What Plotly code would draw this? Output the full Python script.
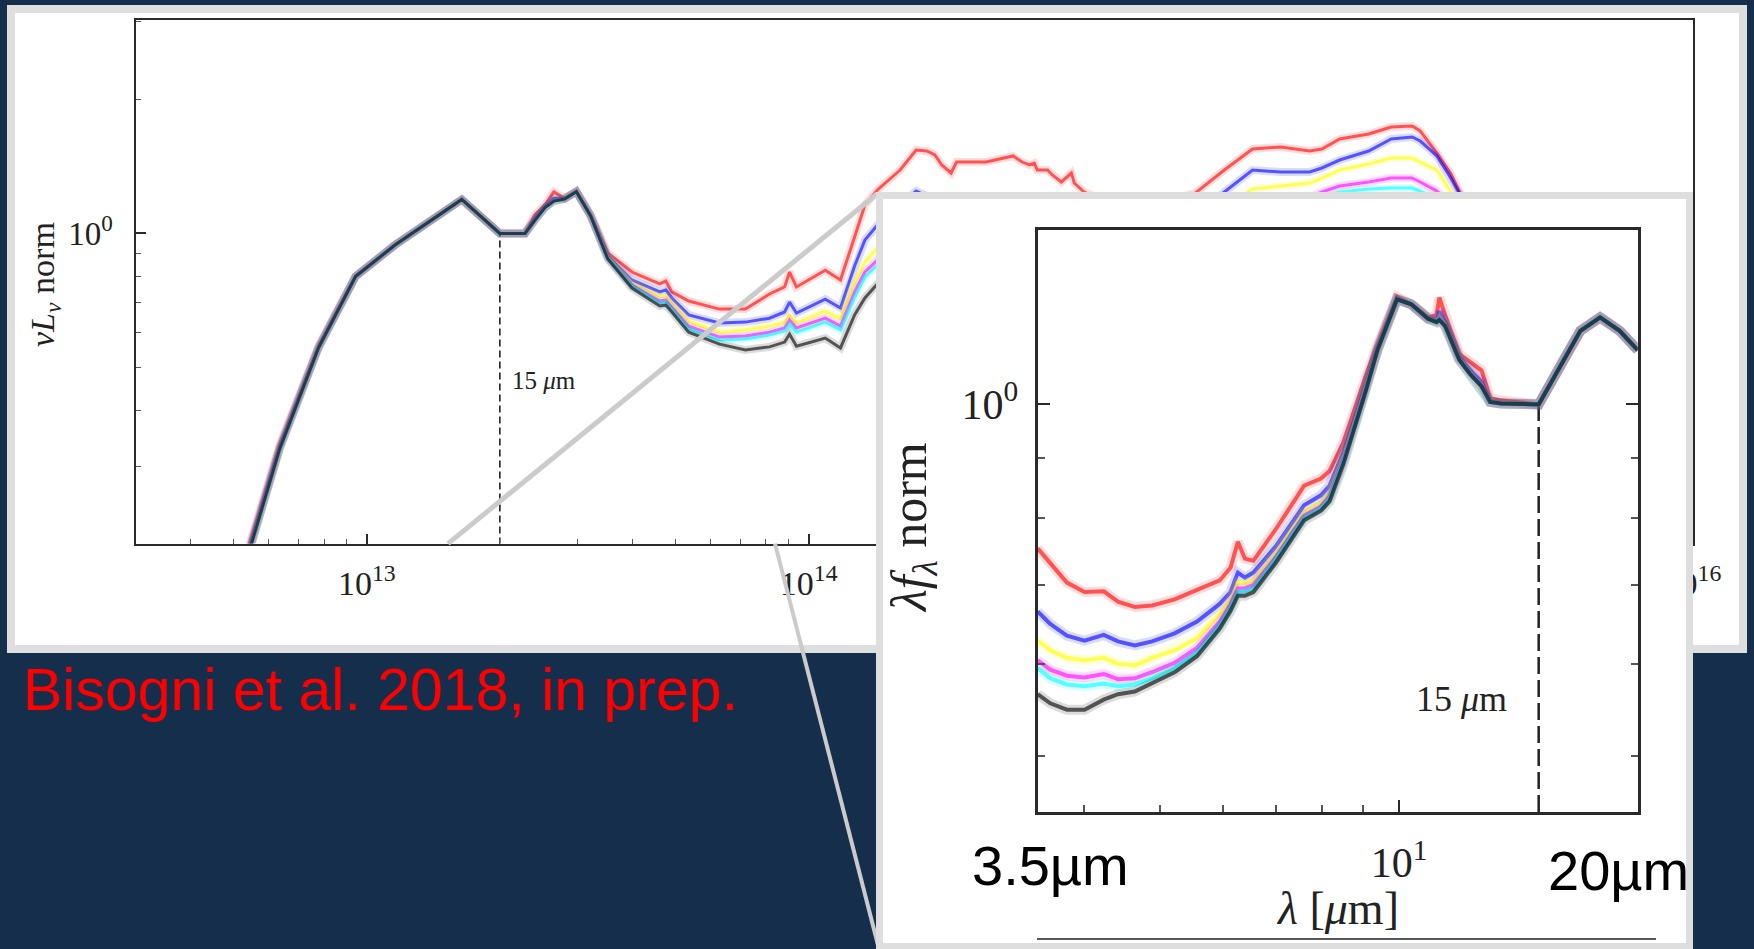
import plotly.graph_objects as go

W, H = 1754, 949

# ---------------- main panel data (nu in Hz, nuL_nu normalised) ----------------
nu_main = [5.16e12, 6.35e12, 7.78e12, 9.43e12, 1.16e13, 1.64e13, 2.00e13, 2.28e13, 2.40e13, 2.53e13,
           2.65e13, 2.80e13, 2.98e13, 3.21e13,
           3.51e13, 3.98e13, 4.60e13, 4.75e13, 4.90e13, 5.35e13, 6.28e13, 7.19e13, 8.15e13, 8.82e13,
           9.05e13, 9.38e13, 1.09e14, 1.18e14, 1.27e14, 1.34e14, 1.43e14, 1.61e14, 1.75e14, 1.85e14,
           1.93e14, 2.00e14, 2.10e14, 2.16e14, 2.52e14, 2.80e14, 2.90e14, 3.04e14, 3.16e14, 3.24e14,
           3.29e14, 3.47e14, 3.56e14, 3.73e14, 3.93e14, 3.99e14, 4.20e14, 4.79e14, 5.90e14, 7.49e14,
           8.72e14, 1.01e15, 1.17e15, 1.36e15, 1.45e15, 1.59e15, 1.85e15, 2.08e15, 2.32e15, 2.42e15,
           2.64e15, 2.84e15, 2.98e15, 3.29e15, 4.05e15, 6.14e15, 9.81e15]

main_red = [0.170, 0.336, 0.560, 0.803, 0.943, 1.192, 1.0, 1.0, 1.10, 1.16, 1.24, 1.20, 1.245, 1.10,
            0.904, 0.819, 0.770, 0.782, 0.739, 0.705, 0.676, 0.676, 0.731, 0.758,
            0.819, 0.758, 0.827, 0.786, 0.982, 1.158, 1.252, 1.388, 1.540, 1.532,
            1.501, 1.425, 1.367, 1.447, 1.447, 1.485, 1.493, 1.447, 1.425, 1.439,
            1.388, 1.388, 1.353, 1.305, 1.367, 1.298, 1.239, 1.170, 1.152, 1.232,
            1.388, 1.548, 1.564, 1.532, 1.548, 1.630, 1.673, 1.734, 1.743, 1.699,
            1.516, 1.360, 1.232, 1.018, 0.708, 0.422, 0.279]
main_blue = [0.166, 0.331, 0.556, 0.801, 0.943, 1.192, 1.0, 1.0, 1.08, 1.15, 1.20, 1.197, 1.242, 1.097,
             0.890, 0.786, 0.739, 0.746, 0.716, 0.656, 0.629, 0.632, 0.645, 0.666,
             0.701, 0.662, 0.712, 0.680, 0.845, 0.966, 1.044, 1.158, 1.245, 1.213,
             1.189, 1.158, 1.129, 1.140, 1.129, 1.140, 1.140, 1.117, 1.106, 1.106,
             1.083, 1.072, 1.061, 1.044, 1.044, 1.028, 1.007, 0.966, 0.976, 1.100,
             1.239, 1.388, 1.374, 1.374, 1.403, 1.462, 1.532, 1.630, 1.647, 1.613,
             1.493, 1.332, 1.220, 1.007, 0.690, 0.411, 0.272]
main_yellow = [0.164, 0.328, 0.554, 0.800, 0.943, 1.192, 1.0, 1.0, 1.07, 1.143, 1.182, 1.195, 1.241, 1.095,
               0.885, 0.774, 0.720, 0.724, 0.698, 0.635, 0.600, 0.607, 0.619, 0.632,
               0.656, 0.629, 0.669, 0.642, 0.778, 0.862, 0.927, 1.018, 1.083, 1.061,
               1.039, 1.018, 0.997, 1.002, 0.992, 0.997, 0.997, 0.982, 0.976, 0.971,
               0.961, 0.952, 0.942, 0.932, 0.927, 0.918, 0.899, 0.871, 0.890, 1.007,
               1.140, 1.258, 1.278, 1.298, 1.332, 1.388, 1.432, 1.477, 1.477, 1.447,
               1.388, 1.239, 1.158, 0.966, 0.673, 0.401, 0.265]
main_magenta = [0.164, 0.328, 0.554, 0.800, 0.943, 1.192, 1.0, 1.0, 1.07, 1.143, 1.182, 1.195, 1.241, 1.095,
                0.880, 0.766, 0.705, 0.708, 0.683, 0.619, 0.585, 0.588, 0.600, 0.613,
                0.639, 0.613, 0.645, 0.619, 0.739, 0.819, 0.871, 0.947, 0.997, 0.976,
                0.961, 0.947, 0.932, 0.932, 0.923, 0.927, 0.927, 0.913, 0.908, 0.904,
                0.894, 0.885, 0.876, 0.867, 0.862, 0.853, 0.836, 0.810, 0.827, 0.937,
                1.061, 1.164, 1.189, 1.207, 1.239, 1.278, 1.305, 1.332, 1.332, 1.305,
                1.245, 1.158, 1.100, 0.927, 0.656, 0.391, 0.258]
main_cyan = [0.164, 0.328, 0.554, 0.800, 0.943, 1.192, 1.0, 1.0, 1.07, 1.143, 1.182, 1.195, 1.241, 1.095,
             0.880, 0.762, 0.698, 0.701, 0.676, 0.610, 0.576, 0.579, 0.591, 0.604,
             0.626, 0.600, 0.632, 0.607, 0.720, 0.798, 0.849, 0.923, 0.971, 0.952,
             0.937, 0.923, 0.908, 0.908, 0.899, 0.904, 0.904, 0.890, 0.885, 0.880,
             0.871, 0.862, 0.853, 0.845, 0.840, 0.832, 0.815, 0.790, 0.806, 0.913,
             1.033, 1.134, 1.158, 1.176, 1.207, 1.239, 1.258, 1.265, 1.265, 1.245,
             1.201, 1.129, 1.072, 0.908, 0.645, 0.385, 0.254]
main_black = [0.164, 0.328, 0.554, 0.800, 0.943, 1.192, 1.0, 1.0, 1.07, 1.143, 1.182, 1.195, 1.241, 1.095,
              0.876, 0.754, 0.687, 0.690, 0.666, 0.600, 0.564, 0.547, 0.556, 0.570,
              0.594, 0.558, 0.582, 0.553, 0.656, 0.716, 0.770, 0.836, 0.880, 0.862,
              0.849, 0.836, 0.823, 0.823, 0.815, 0.819, 0.819, 0.806, 0.802, 0.798,
              0.790, 0.782, 0.774, 0.766, 0.762, 0.754, 0.739, 0.716, 0.731, 0.827,
              0.937, 1.039, 1.061, 1.083, 1.117, 1.158, 1.189, 1.201, 1.201, 1.182,
              1.140, 1.083, 1.039, 0.880, 0.632, 0.377, 0.249]

# ---------------- inset data (lambda in micron, lambda f_lambda normalised) ----------------
lam_inset = [3.50, 3.63, 3.81, 4.01, 4.24, 4.42, 4.64, 4.88, 5.21, 5.56,
             5.94, 6.13, 6.26, 6.39, 6.55, 6.99, 7.59, 7.97, 8.17, 8.51,
             8.80, 9.09, 9.39, 9.94, 10.36, 10.88, 11.15, 11.24, 11.43, 11.91,
             12.30, 12.71, 13.03, 13.46, 15.0, 16.13, 16.93, 17.93, 18.98, 20.0]
inset_red = [0.753, 0.731, 0.704, 0.691, 0.692, 0.678, 0.671, 0.673, 0.681, 0.694,
             0.707, 0.725, 0.763, 0.738, 0.735, 0.782, 0.852, 0.864, 0.877, 0.928,
             0.992, 1.061, 1.124, 1.236, 1.218, 1.187, 1.192, 1.234, 1.192, 1.104,
             1.087, 1.069, 1.012, 1.008, 1.0, 1.092, 1.156, 1.187, 1.156, 1.113]
inset_blue = [0.665, 0.649, 0.634, 0.628, 0.635, 0.627, 0.622, 0.627, 0.637, 0.652,
              0.675, 0.691, 0.718, 0.711, 0.718, 0.756, 0.820, 0.836, 0.852, 0.911,
              0.974, 1.041, 1.115, 1.231, 1.218, 1.184, 1.181, 1.201, 1.176, 1.097,
              1.069, 1.046, 1.005, 1.002, 1.0, 1.092, 1.156, 1.187, 1.156, 1.113]
inset_yellow = [0.628, 0.616, 0.607, 0.604, 0.607, 0.600, 0.598, 0.607, 0.616, 0.631,
                0.662, 0.681, 0.704, 0.703, 0.707, 0.746, 0.809, 0.824, 0.840, 0.902,
                0.967, 1.036, 1.113, 1.230, 1.218, 1.184, 1.178, 1.188, 1.170, 1.094,
                1.063, 1.038, 1.005, 1.002, 1.0, 1.092, 1.156, 1.187, 1.156, 1.113]
inset_magenta = [0.604, 0.593, 0.586, 0.584, 0.588, 0.582, 0.583, 0.590, 0.601, 0.619,
                 0.652, 0.675, 0.696, 0.696, 0.701, 0.740, 0.803, 0.818, 0.834, 0.898,
                 0.963, 1.033, 1.113, 1.230, 1.218, 1.184, 1.177, 1.185, 1.168, 1.093,
                 1.062, 1.037, 1.005, 1.002, 1.0, 1.092, 1.156, 1.187, 1.156, 1.113]
inset_cyan = [0.595, 0.583, 0.576, 0.574, 0.577, 0.574, 0.576, 0.583, 0.595, 0.613,
              0.647, 0.670, 0.691, 0.692, 0.696, 0.737, 0.800, 0.815, 0.831, 0.894,
              0.960, 1.031, 1.113, 1.230, 1.218, 1.184, 1.176, 1.183, 1.167, 1.092,
              1.061, 1.036, 1.005, 1.002, 1.0, 1.092, 1.156, 1.187, 1.156, 1.113]
inset_black = [0.565, 0.555, 0.548, 0.548, 0.559, 0.565, 0.568, 0.577, 0.590, 0.609,
               0.643, 0.666, 0.686, 0.686, 0.691, 0.732, 0.796, 0.811, 0.826, 0.890,
               0.957, 1.030, 1.113, 1.230, 1.218, 1.184, 1.176, 1.181, 1.167, 1.092,
               1.061, 1.036, 1.005, 1.002, 1.0, 1.092, 1.156, 1.187, 1.156, 1.113]

# tick labels
main_xticks = [1e13, 1e14, 1e15, 1e16]
main_xticktext = ["10<sup>13</sup>", "10<sup>14</sup>", "10<sup>15</sup>", "10<sup>16</sup>"]
main_yticks = [1]
main_yticktext = ["10<sup>0</sup>"]
inset_xticks = [10]
inset_xticktext = ["10<sup>1</sup>"]
inset_yticks = [1]
inset_yticktext = ["10<sup>0</sup>"]

line_15um_nu = 2e13
line_15um_lam = 15.0

series_rgb = [("red", (255, 0, 0)), ("blue", (0, 0, 255)), ("yellow", (255, 255, 0)),
              ("magenta", (255, 0, 255)), ("cyan", (0, 255, 255)), ("black", (0, 0, 0))]
main_series = {"red": main_red, "blue": main_blue, "yellow": main_yellow,
               "magenta": main_magenta, "cyan": main_cyan, "black": main_black}
inset_series = {"red": inset_red, "blue": inset_blue, "yellow": inset_yellow,
                "magenta": inset_magenta, "cyan": inset_cyan, "black": inset_black}

NAVY = "#142e4c"
GREY = "#dedede"
SERIF = "Liberation Serif, Times New Roman, serif"
SANS = "Liberation Sans, Arial, sans-serif"
AX = "#2a2a2a"


def px(x):
    return x / W


def py(y):
    return 1 - y / H


def rgba(c, a):
    return "rgba(%d,%d,%d,%s)" % (c[0], c[1], c[2], a)


fig = go.Figure()

# ---- main plot (xy) ----
fig.add_trace(go.Scatter(x=[line_15um_nu, line_15um_nu], y=[0.2, 1.0], mode="lines",
                         line=dict(color="#222", width=1.6, dash="7px,4px"),
                         xaxis="x", yaxis="y", hoverinfo="skip", showlegend=False))
for name, c in series_rgb:
    fig.add_trace(go.Scatter(x=nu_main, y=main_series[name], mode="lines",
                             line=dict(color=rgba(c, 0.14), width=8),
                             xaxis="x", yaxis="y", hoverinfo="skip", showlegend=False))
    fig.add_trace(go.Scatter(x=nu_main, y=main_series[name], mode="lines",
                             line=dict(color=rgba(c, 0.62), width=3),
                             xaxis="x", yaxis="y", name=name, showlegend=False))
# main x-axis title as text living in the main subplot (so the inset covers it)
fig.add_trace(go.Scatter(x=[1.70e14], y=[0.140], mode="text", text=["<i>ν</i> [Hz]"],
                         textfont=dict(family=SERIF, size=32, color="#222"),
                         cliponaxis=False, xaxis="x", yaxis="y", hoverinfo="skip", showlegend=False))

# ---- inset white panel (x2y2) ----
fig.add_trace(go.Scatter(x=[0, 1, 1, 0, 0], y=[0, 0, 1, 1, 0], mode="lines", fill="toself",
                         fillcolor="white", line=dict(width=0, color="white"),
                         xaxis="x2", yaxis="y2", hoverinfo="skip", showlegend=False))

# ---- inset plot (x3y3) ----
fig.add_trace(go.Scatter(x=[line_15um_lam, line_15um_lam], y=[0.448, 1.0], mode="lines",
                         line=dict(color="#222", width=2.5, dash="17px,6px"),
                         xaxis="x3", yaxis="y3", hoverinfo="skip", showlegend=False))
for name, c in series_rgb:
    fig.add_trace(go.Scatter(x=lam_inset, y=inset_series[name], mode="lines",
                             line=dict(color=rgba(c, 0.14), width=10),
                             xaxis="x3", yaxis="y3", hoverinfo="skip", showlegend=False))
    fig.add_trace(go.Scatter(x=lam_inset, y=inset_series[name], mode="lines",
                             line=dict(color=rgba(c, 0.62), width=4),
                             xaxis="x3", yaxis="y3", name=name, showlegend=False))

minor_main_x = [k * 10 ** e for e in (12, 13, 14, 15) for k in range(2, 10) if 3e12 <= k * 10 ** e <= 1e16]
minor_main_y = [0.3, 0.4, 0.5, 0.6, 0.7, 0.8, 0.9, 2, 3]
minor_inset_x = [4, 5, 6, 7, 8, 9]
minor_inset_y = [0.5, 0.6, 0.7, 0.8, 0.9]

axis_common = dict(showgrid=False, zeroline=False, showline=True, linecolor=AX, ticks="inside",
                   tickcolor=AX, tickmode="array", automargin=False)

fig.update_layout(
    width=W, height=H, autosize=False,
    margin=dict(l=0, r=0, t=0, b=0, pad=0, autoexpand=False),
    paper_bgcolor=NAVY, plot_bgcolor="rgba(0,0,0,0)", showlegend=False,
    xaxis=dict(axis_common, domain=[px(135.5), px(1692.5)], type="log", range=[12.4765, 16.0],
               anchor="y", mirror=True, linewidth=2, ticklen=10, tickwidth=1.5,
               tickvals=main_xticks, ticktext=main_xticktext, ticklabelstandoff=9,
               tickfont=dict(family=SERIF, size=34, color="#222"),
               minor=dict(tickvals=minor_main_x, ticks="inside", ticklen=5, tickwidth=1.2,
                          tickcolor="#555", showgrid=False)),
    yaxis=dict(axis_common, domain=[py(543.6), py(20)], type="log", range=[-0.697, 0.4796],
               anchor="x", mirror=True, linewidth=2, ticklen=10, tickwidth=1.5,
               tickvals=main_yticks, ticktext=main_yticktext, ticklabelstandoff=14,
               tickfont=dict(family=SERIF, size=33, color="#222"),
               minor=dict(tickvals=minor_main_y, ticks="inside", ticklen=5, tickwidth=1.2,
                          tickcolor="#555", showgrid=False)),
    xaxis2=dict(domain=[px(876), px(1693)], range=[0, 1], visible=False, anchor="y2",
                fixedrange=True, automargin=False),
    yaxis2=dict(domain=[0, py(192)], range=[0, 1], visible=False, anchor="x2",
                fixedrange=True, automargin=False),
    xaxis3=dict(axis_common, domain=[px(1037.7), px(1637.7)], type="log", range=[0.5441, 1.3010],
                anchor="y3", mirror=True, linewidth=3, ticklen=12, tickwidth=2,
                tickvals=inset_xticks, ticktext=inset_xticktext, ticklabelstandoff=12,
                tickfont=dict(family=SERIF, size=42, color="#222"),
                minor=dict(tickvals=minor_inset_x, ticks="inside", ticklen=7, tickwidth=1.5,
                           tickcolor="#555", showgrid=False)),
    yaxis3=dict(axis_common, domain=[py(812), py(230)], type="log", range=[-0.3487, 0.1492],
                anchor="x3", mirror="ticks", linewidth=3, ticklen=12, tickwidth=2,
                tickvals=inset_yticks, ticktext=inset_yticktext, ticklabelstandoff=8,
                tickfont=dict(family=SERIF, size=42, color="#222"),
                minor=dict(tickvals=minor_inset_y, ticks="inside", ticklen=7, tickwidth=1.5,
                           tickcolor="#555", showgrid=False)),
)

shapes = [
    # main white panel with grey frame
    dict(type="rect", xref="paper", yref="paper", x0=px(11), x1=px(1743), y0=py(649), y1=py(9),
         fillcolor="white", line=dict(color=GREY, width=8), layer="below"),
    # zoom connector lines
    dict(type="line", xref="paper", yref="paper", x0=px(448), y0=py(543.6), x1=px(877), y1=py(194),
         line=dict(color="#cbcbcb", width=5), layer="above"),
    dict(type="line", xref="paper", yref="paper", x0=px(775), y0=py(543.6), x1=px(879), y1=py(949),
         line=dict(color="#cbcbcb", width=4), layer="above"),
    # inset frame
    dict(type="rect", xref="paper", yref="paper", x0=px(879.5), x1=px(1689.5), y0=py(946.5), y1=py(195.5),
         fillcolor="rgba(0,0,0,0)", line=dict(color=GREY, width=7), layer="above"),
    # thin rule under inset label
    dict(type="line", xref="paper", yref="paper", x0=px(1037), y0=py(939), x1=px(1656), y1=py(939),
         line=dict(color="#222", width=1.3), layer="above"),
]
fig.update_layout(shapes=shapes)

annotations = [
    dict(text="Bisogni et al. 2018, in prep.", x=px(21), y=py(690), xref="paper", yref="paper",
         xanchor="left", yanchor="middle", showarrow=False,
         font=dict(family=SANS, size=59, color="#ff0000")),
    dict(text="3.5µm", x=px(1050), y=py(865), xref="paper", yref="paper",
         xanchor="center", yanchor="middle", showarrow=False,
         font=dict(family=SANS, size=56, color="black")),
    dict(text="20µm", x=px(1618), y=py(870), xref="paper", yref="paper",
         xanchor="center", yanchor="middle", showarrow=False,
         font=dict(family=SANS, size=56, color="black")),
    dict(text="<i>λ</i> [<i>μ</i>m]", x=px(1337), y=py(908), xref="paper", yref="paper",
         xanchor="center", yanchor="middle", showarrow=False,
         font=dict(family=SERIF, size=46, color="#222")),
    dict(text="<i>λf</i><sub><i>λ</i></sub> norm", x=px(913), y=py(527), xref="paper", yref="paper",
         xanchor="center", yanchor="middle", textangle=-90, showarrow=False,
         font=dict(family=SERIF, size=50, color="#222")),
    dict(text="<i>νL</i><sub><i>ν</i></sub> norm", x=px(45), y=py(285), xref="paper", yref="paper",
         xanchor="center", yanchor="middle", textangle=-90, showarrow=False,
         font=dict(family=SERIF, size=34, color="#222")),
    dict(text="15 <i>μ</i>m", x=px(510), y=py(380), xref="paper", yref="paper",
         xanchor="left", yanchor="middle", showarrow=False,
         font=dict(family=SERIF, size=25, color="#222")),
    dict(text="15 <i>μ</i>m", x=px(1461), y=py(699), xref="paper", yref="paper",
         xanchor="center", yanchor="middle", showarrow=False,
         font=dict(family=SERIF, size=36, color="#222")),
]
fig.update_layout(annotations=annotations)

fig.write_html(
    "out.html", include_plotlyjs=True, config={"responsive": False},
    post_script="document.body.style.margin='0';document.body.style.overflow='hidden';",
)
